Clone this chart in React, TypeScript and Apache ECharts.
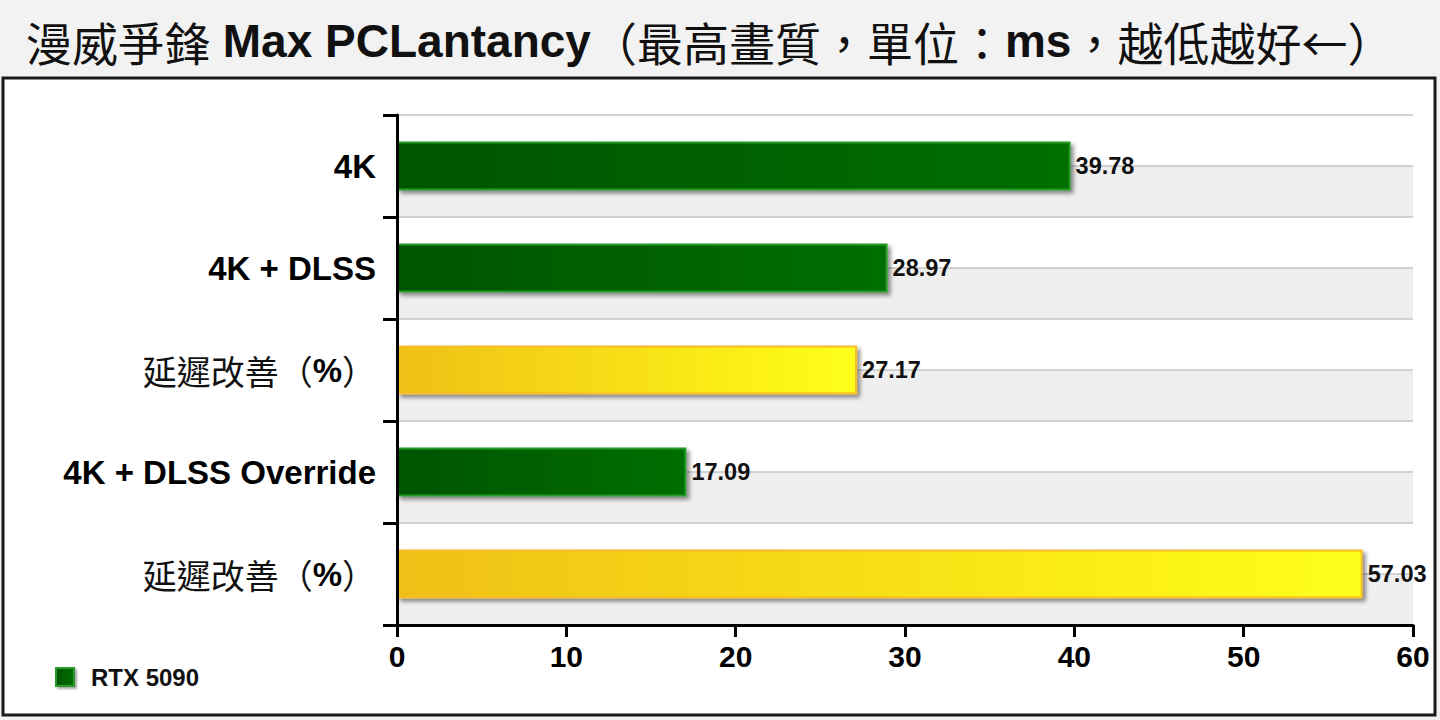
import { useEffect, useRef } from 'react'
import * as echarts from 'echarts'

const categories = ['4K', '4K + DLSS', '延遲改善（%）', '4K + DLSS Override', '延遲改善（%）']
const values = [39.78, 28.97, 27.17, 17.09, 57.03]
const isImprovement = [false, false, true, false, true]
const xTicks = { min: 0, max: 60, interval: 10 }
const seriesName = 'RTX 5090'
const stripeRows = ['s0', 's1', 's2', 's3', 's4', 's5', 's6', 's7', 's8', 's9']

const LATIN = "'Liberation Sans', Arial, sans-serif"
const CJK = "'Noto Sans CJK TC', 'Noto Sans CJK SC', sans-serif"

const greenFill = new echarts.graphic.LinearGradient(0, 0, 1, 0, [
  { offset: 0, color: '#045404' },
  { offset: 1, color: '#066e06' }
])
const yellowFill = new echarts.graphic.LinearGradient(0, 0, 1, 0, [
  { offset: 0, color: '#efc014' },
  { offset: 1, color: '#ffff1a' }
])

export default function App() {
  const chartRef = useRef<HTMLDivElement>(null)

  useEffect(() => {
    document.body.style.margin = '0'
    if (!chartRef.current) return
    const chart = echarts.init(chartRef.current, null, { renderer: 'svg' })

    const option: echarts.EChartsOption = {
      animation: false,
      backgroundColor: '#f2f2f2',
      title: {
        left: 21,
        top: 13,
        text: '{c|漫威爭鋒}{l| Max PCLantancy}{c|（最高畫質，單位：}{l|ms}{c|，越低越好←）}',
        textStyle: {
          rich: {
            c: { fontFamily: CJK, fontSize: 46, fontWeight: 'normal', color: '#111' },
            l: { fontFamily: LATIN, fontSize: 46, fontWeight: 'bold', color: '#111' }
          }
        }
      },
      graphic: [
        {
          type: 'rect',
          z: -10,
          shape: { x: 3, y: 78, width: 1432, height: 637 },
          style: { fill: '#ffffff', stroke: '#1a1a1a', lineWidth: 3 }
        }
      ],
      legend: {
        data: [seriesName],
        left: 50,
        top: 660,
        icon: 'rect',
        itemWidth: 18,
        itemHeight: 18,
        itemGap: 20,
        itemStyle: { shadowColor: 'rgba(0,0,0,0.35)', shadowBlur: 2, shadowOffsetX: 2, shadowOffsetY: 2 },
        textStyle: { fontFamily: LATIN, fontSize: 24, fontWeight: 'bold', color: '#111', padding: [0, 0, 0, 12] }
      },
      grid: { left: 397, right: 27, top: 115, bottom: 95 },
      xAxis: {
        type: 'value',
        min: xTicks.min,
        max: xTicks.max,
        interval: xTicks.interval,
        axisLine: { show: true, lineStyle: { color: '#000', width: 3 } },
        axisTick: { show: true, length: 12, lineStyle: { color: '#000', width: 3 } },
        splitLine: { show: false },
        axisLabel: { fontFamily: LATIN, fontSize: 30, fontWeight: 'bold', color: '#000', margin: 16 }
      },
      yAxis: [
        {
          type: 'category',
          data: categories,
          inverse: true,
          axisLine: { show: true, lineStyle: { color: '#000', width: 3 } },
          axisTick: { show: true, length: 14, lineStyle: { color: '#000', width: 3 } },
          splitLine: { show: false },
          axisLabel: {
            margin: 21,
            formatter: (v: string) =>
              v.startsWith('延') ? '{c|延遲改善（}{b|%}{c|）}' : `{b|${v}}`,
            rich: {
              b: { fontFamily: LATIN, fontSize: 33, fontWeight: 'bold', color: '#000' },
              c: { fontFamily: CJK, fontSize: 34, fontWeight: 'normal', color: '#111' }
            }
          },
          z: 5
        },
        {
          type: 'category',
          data: stripeRows,
          inverse: true,
          position: 'left',
          axisLine: { show: false },
          axisTick: { show: false },
          axisLabel: { show: false },
          splitLine: { show: true, lineStyle: { color: '#c4c4c4', width: 1.5 } },
          splitArea: { show: true, areaStyle: { color: ['#ffffff', '#efefef'] } }
        }
      ],
      series: [
        {
          name: seriesName,
          type: 'bar',
          yAxisIndex: 0,
          barWidth: 49,
          itemStyle: {
            color: greenFill,
            borderColor: '#259a25',
            borderWidth: 2,
            shadowColor: 'rgba(0,0,0,0.45)',
            shadowBlur: 4,
            shadowOffsetX: 3,
            shadowOffsetY: 3
          },
          label: {
            show: true,
            position: 'right',
            distance: 5,
            fontFamily: LATIN,
            fontSize: 23.5,
            fontWeight: 'bold',
            color: '#111',
            formatter: (p: any) => (p.value as number).toFixed(2)
          },
          data: values.map((v, i) =>
            isImprovement[i]
              ? { value: v, itemStyle: { color: yellowFill, borderColor: '#f6bb2c' } }
              : { value: v }
          )
        }
      ]
    }

    chart.setOption(option)
    return () => {
      chart.dispose()
    }
  }, [])

  return <div ref={chartRef} style={{ width: 1440, height: 720 }} />
}
